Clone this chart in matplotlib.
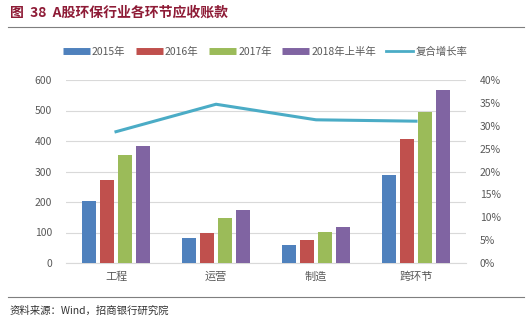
import matplotlib
matplotlib.use("Agg")
import matplotlib.pyplot as plt
from matplotlib.lines import Line2D
import numpy as np

plt.rcParams['font.family'] = ['Noto Sans CJK SC', 'DejaVu Sans']

categories = ['工程', '运营', '制造', '跨环节']
series_names = ['2015年', '2016年', '2017年', '2018年上半年']
v2015 = [203, 82, 60, 287]
v2016 = [271, 98, 75, 408]
v2017 = [355, 148, 102, 496]
v2018h1 = [382, 173, 119, 567]
cagr = [0.287, 0.347, 0.313, 0.310]
line_name = '复合增长率'

colors = ['#4F81BD', '#C0504D', '#9BBB59', '#8064A2']
line_color = '#4BACC6'
text_gray = '#595959'

fig = plt.figure(figsize=(5.32, 3.22), dpi=100)
ax = fig.add_axes([66/532, 59/322, 400/532, 183/322])

x = np.arange(len(categories))
width = 0.14
step = 0.18
for i, vals in enumerate([v2015, v2016, v2017, v2018h1]):
    ax.bar(x + (i - 1.5)*step, vals, width, color=colors[i], zorder=3)

ax.set_xlim(-0.5, 3.5)
ax.set_ylim(0, 600)
ax.set_yticks(range(0, 601, 100))
ax.set_xticks(x)
ax.set_xticklabels(categories)
ax.grid(axis='y', color='#D9D9D9', lw=0.8, zorder=0)
for s in ['top', 'right', 'left']:
    ax.spines[s].set_visible(False)
ax.spines['bottom'].set_color('#D9D9D9')
ax.tick_params(axis='both', length=0, labelsize=7.5, colors=text_gray)
ax.tick_params(axis='x', pad=6, labelsize=8)
ax.tick_params(axis='y', pad=10)

ax2 = ax.twinx()
ax2.plot(x, cagr, color=line_color, lw=2.2, zorder=4)
ax2.set_ylim(0, 0.4)
ax2.set_yticks(np.arange(0, 0.41, 0.05))
ax2.set_yticklabels([f'{int(round(t*100))}%' for t in np.arange(0, 0.41, 0.05)])
for s in ax2.spines.values():
    s.set_visible(False)
ax2.tick_params(axis='y', length=0, labelsize=7.5, colors=text_gray, pad=10)

handles = [Line2D([], [], color=c, lw=5, solid_capstyle='butt') for c in colors]
handles.append(Line2D([], [], color=line_color, lw=2))
fig.legend(handles, series_names + [line_name], loc='center', ncol=5,
           bbox_to_anchor=(265/532, 1 - 52/322), frameon=False, fontsize=7.5,
           handlelength=2.6, handletextpad=0.2, columnspacing=1.0,
           labelcolor=text_gray)

fig.text(10/532, 1 - 13/322, '图  38  A股环保行业各环节应收账款', color='#8E1B36',
         fontsize=10, fontweight='bold', va='center', ha='left')
fig.add_artist(Line2D([8/532, 524/532], [1 - 27/322, 1 - 27/322], color='#7F7F7F', lw=0.8))
fig.add_artist(Line2D([8/532, 524/532], [1 - 297/322, 1 - 297/322], color='#7F7F7F', lw=0.8))
fig.text(10/532, 1 - 311/322, '资料来源：Wind，招商银行研究院', color='#333333',
         fontsize=7.5, fontstyle='italic', va='center', ha='left')

fig.savefig('out.png', dpi=100)
